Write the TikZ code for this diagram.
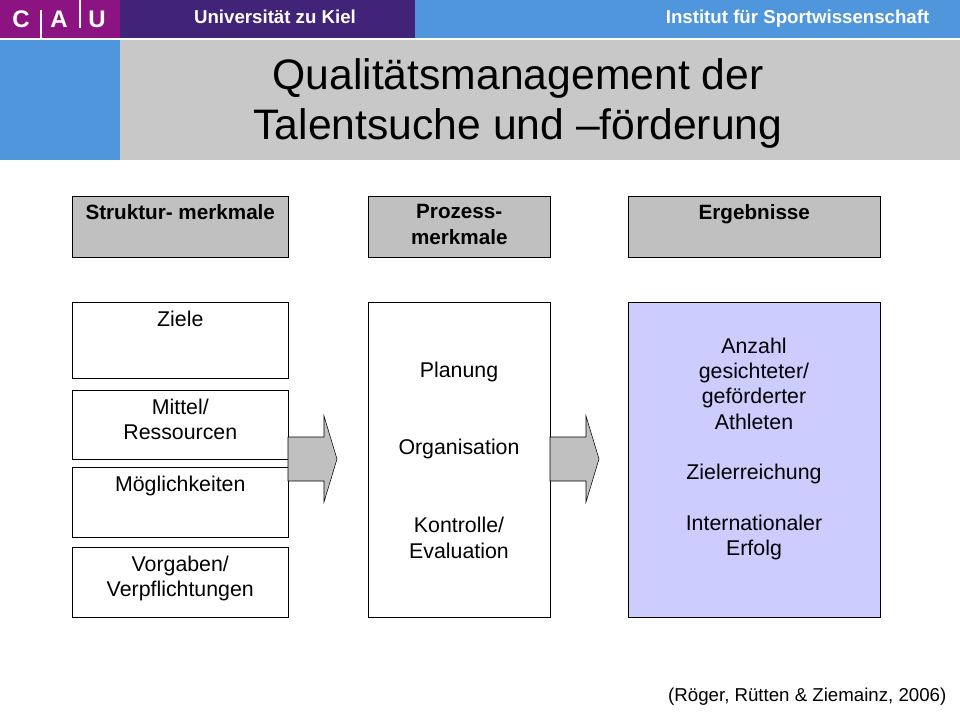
\documentclass[tikz,border=0pt]{standalone}
\usepackage{fontspec}
\setmainfont{Liberation Sans}
\usetikzlibrary{positioning}
\definecolor{cauMagenta}{RGB}{140,20,130}
\definecolor{cauPurple}{RGB}{65,35,120}
\definecolor{cauBlue}{RGB}{80,150,220}
\definecolor{titleGray}{RGB}{200,200,200}
\definecolor{headGray}{RGB}{192,192,192}
\definecolor{resultBlue}{RGB}{204,204,255}
\tikzset{
    head/.style={rectangle, draw=black, fill=headGray, anchor=north west, inner sep=0pt},
    item/.style={rectangle, draw=black, fill=white, anchor=north west, inner sep=0pt},
    headtext/.style={font=\fontsize{15.5}{19}\selectfont\bfseries, align=center, anchor=north, yshift=-3pt},
    itemtext/.style={font=\fontsize{16}{19}\selectfont, align=center},
    blockarrow/.style={draw=black, fill=headGray}
}
\newcommand{\boxat}[6]{% name, style, x, y, w, h
    \node[#2, minimum width=#5*0.75pt, minimum height=#6*0.75pt] (#1) at (#3,#4) {};}
\begin{document}
\begin{tikzpicture}[x=0.75pt, y=-0.75pt]
    \useasboundingbox (0,0) rectangle (960,720);
    % Header bars
    \fill[cauMagenta] (0,0) rectangle (120,38);
    \fill[cauPurple] (120,0) rectangle (415,38);
    \fill[cauBlue] (415,0) rectangle (960,38);
    \fill[cauBlue] (0,40) rectangle (120,160);
    \fill[titleGray] (120,40) rectangle (960,160);
    \node[white, font=\fontsize{18}{20}\selectfont\bfseries] (logoC) at (21,19) {C};
    \node[white, font=\fontsize{18}{20}\selectfont\bfseries] (logoA) at (59,19) {A};
    \node[white, font=\fontsize{18}{20}\selectfont\bfseries] (logoU) at (97,19) {U};
    \draw[white, thick] (41,10) -- (41,38) (80,0) -- (80,28);
    \node[white, font=\fontsize{14}{16}\selectfont\bfseries] (uni) at (275,17) {Universität zu Kiel};
    \node[white, anchor=east, font=\fontsize{14}{16}\selectfont\bfseries] (inst) at (934,19) {Institut für Sportwissenschaft};
    \node[align=center, font=\fontsize{32}{37.5}\selectfont] (title) at (518,103) {Qualitätsmanagement der\\Talentsuche und –förderung};

    % Column heads
    \boxat{struct}{head}{72}{196}{216}{61}
    \boxat{proc}{head}{368}{196}{182}{61}
    \boxat{res}{head}{628}{196}{252}{61}
    \node[headtext] at (struct.north) {Struktur- merkmale};
    \node[headtext] at (proc.north) {Prozess-\\merkmale};
    \node[headtext] at (res.north) {Ergebnisse};

    % Structure items
    \boxat{ziele}{item}{72}{302}{216}{76}
    \boxat{mittel}{item}{72}{390}{216}{69}
    \boxat{moegl}{item}{72}{467}{216}{70}
    \boxat{vorg}{item}{72}{547}{216}{70}
    \node[itemtext, anchor=north, yshift=-3pt] at (ziele.north) {Ziele};
    \node[itemtext, anchor=north, yshift=-3pt] at (mittel.north) {Mittel/\\Ressourcen};
    \node[itemtext, anchor=north, yshift=-3pt] at (moegl.north) {Möglichkeiten};
    \node[itemtext, anchor=north, yshift=-3pt] at (vorg.north) {Vorgaben/\\Verpflichtungen};

    % Process and results
    \boxat{procbox}{item}{368}{302}{182}{315}
    \boxat{resbox}{item, fill=resultBlue}{628}{302}{252}{315}
    \node[itemtext] at (459,372) {Planung};
    \node[itemtext] at (459,449) {Organisation};
    \node[itemtext] at (459,538) {Kontrolle/\\Evaluation};
    \node[itemtext, anchor=north] at (754,333) {Anzahl\\gesichteter/\\geförderter\\Athleten\\[19pt]Zielerreichung\\[19pt]Internationaler\\Erfolg};

    % Block arrows
    \draw[blockarrow] (288,437) -- (324,437) -- (324,416) -- (337,459) -- (324,502) -- (324,481) -- (288,481) -- cycle;
    \draw[blockarrow] (550,437) -- (586,437) -- (586,416) -- (599,459) -- (586,502) -- (586,481) -- (550,481) -- cycle;

    % Source
    \node[anchor=east, font=\fontsize{14}{16}\selectfont] (src) at (951,697) {(Röger, Rütten \& Ziemainz, 2006)};
\end{tikzpicture}
\end{document}
